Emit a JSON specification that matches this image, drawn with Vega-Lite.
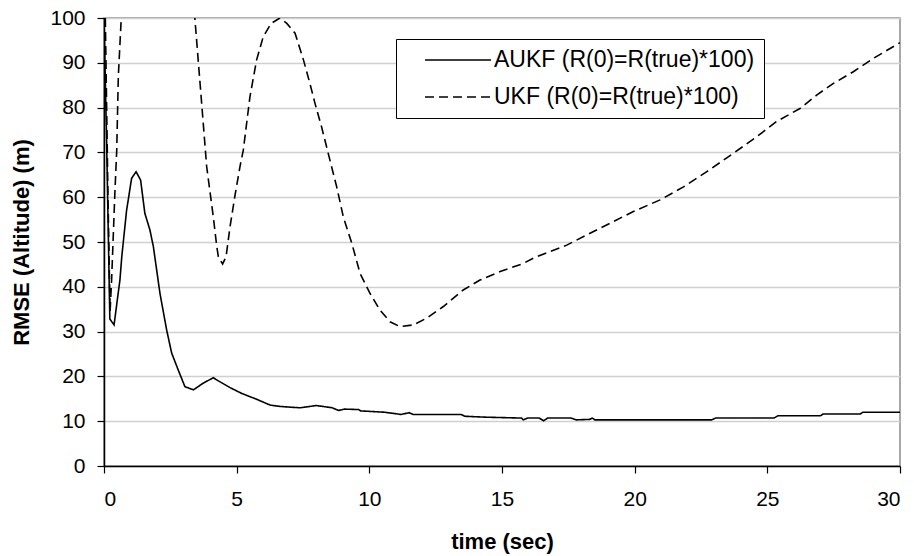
{
  "$schema": "https://vega.github.io/schema/vega-lite/v6.json",
  "width": 796,
  "height": 448,
  "autosize": "none",
  "padding": {"left": 104, "top": 18, "right": 14, "bottom": 90},
  "background": "white",
  "config": {
    "font": "Liberation Sans",
    "view": {"stroke": "#8c8c8c", "strokeWidth": 1.5},
    "axis": {"labelFont": "Liberation Sans", "titleFont": "Liberation Sans", "labelColor": "black", "titleColor": "black"}
  },
  "data": {
    "values": [
      {"t": 0, "v": 100, "s": "AUKF (R(0)=R(true)*100)"},
      {"t": 0.1, "v": 72, "s": "AUKF (R(0)=R(true)*100)"},
      {"t": 0.22, "v": 32.8, "s": "AUKF (R(0)=R(true)*100)"},
      {"t": 0.38, "v": 31.5, "s": "AUKF (R(0)=R(true)*100)"},
      {"t": 0.5, "v": 37, "s": "AUKF (R(0)=R(true)*100)"},
      {"t": 0.6, "v": 41.5, "s": "AUKF (R(0)=R(true)*100)"},
      {"t": 0.67, "v": 46.7, "s": "AUKF (R(0)=R(true)*100)"},
      {"t": 0.85, "v": 57, "s": "AUKF (R(0)=R(true)*100)"},
      {"t": 1.04, "v": 64.2, "s": "AUKF (R(0)=R(true)*100)"},
      {"t": 1.21, "v": 65.7, "s": "AUKF (R(0)=R(true)*100)"},
      {"t": 1.38, "v": 63.8, "s": "AUKF (R(0)=R(true)*100)"},
      {"t": 1.54, "v": 56.4, "s": "AUKF (R(0)=R(true)*100)"},
      {"t": 1.73, "v": 52.7, "s": "AUKF (R(0)=R(true)*100)"},
      {"t": 1.86, "v": 49, "s": "AUKF (R(0)=R(true)*100)"},
      {"t": 2.11, "v": 38.5, "s": "AUKF (R(0)=R(true)*100)"},
      {"t": 2.36, "v": 30.4, "s": "AUKF (R(0)=R(true)*100)"},
      {"t": 2.55, "v": 25.2, "s": "AUKF (R(0)=R(true)*100)"},
      {"t": 2.8, "v": 21.4, "s": "AUKF (R(0)=R(true)*100)"},
      {"t": 3.05, "v": 17.7, "s": "AUKF (R(0)=R(true)*100)"},
      {"t": 3.37, "v": 17, "s": "AUKF (R(0)=R(true)*100)"},
      {"t": 3.74, "v": 18.5, "s": "AUKF (R(0)=R(true)*100)"},
      {"t": 4.12, "v": 19.7, "s": "AUKF (R(0)=R(true)*100)"},
      {"t": 4.31, "v": 19, "s": "AUKF (R(0)=R(true)*100)"},
      {"t": 4.75, "v": 17.5, "s": "AUKF (R(0)=R(true)*100)"},
      {"t": 5.19, "v": 16.2, "s": "AUKF (R(0)=R(true)*100)"},
      {"t": 5.75, "v": 14.9, "s": "AUKF (R(0)=R(true)*100)"},
      {"t": 6.26, "v": 13.6, "s": "AUKF (R(0)=R(true)*100)"},
      {"t": 6.63, "v": 13.3, "s": "AUKF (R(0)=R(true)*100)"},
      {"t": 7.09, "v": 13.1, "s": "AUKF (R(0)=R(true)*100)"},
      {"t": 7.4, "v": 13.0, "s": "AUKF (R(0)=R(true)*100)"},
      {"t": 8.0, "v": 13.5, "s": "AUKF (R(0)=R(true)*100)"},
      {"t": 8.6, "v": 13.0, "s": "AUKF (R(0)=R(true)*100)"},
      {"t": 8.84, "v": 12.4, "s": "AUKF (R(0)=R(true)*100)"},
      {"t": 9.06, "v": 12.7, "s": "AUKF (R(0)=R(true)*100)"},
      {"t": 9.6, "v": 12.6, "s": "AUKF (R(0)=R(true)*100)"},
      {"t": 9.67, "v": 12.3, "s": "AUKF (R(0)=R(true)*100)"},
      {"t": 10.28, "v": 12.1, "s": "AUKF (R(0)=R(true)*100)"},
      {"t": 10.58, "v": 12.0, "s": "AUKF (R(0)=R(true)*100)"},
      {"t": 11.2, "v": 11.5, "s": "AUKF (R(0)=R(true)*100)"},
      {"t": 11.5, "v": 11.9, "s": "AUKF (R(0)=R(true)*100)"},
      {"t": 11.65, "v": 11.5, "s": "AUKF (R(0)=R(true)*100)"},
      {"t": 12.55, "v": 11.5, "s": "AUKF (R(0)=R(true)*100)"},
      {"t": 13.46, "v": 11.5, "s": "AUKF (R(0)=R(true)*100)"},
      {"t": 13.6, "v": 11.1, "s": "AUKF (R(0)=R(true)*100)"},
      {"t": 14.37, "v": 10.9, "s": "AUKF (R(0)=R(true)*100)"},
      {"t": 15.74, "v": 10.7, "s": "AUKF (R(0)=R(true)*100)"},
      {"t": 15.8, "v": 10.3, "s": "AUKF (R(0)=R(true)*100)"},
      {"t": 15.97, "v": 10.7, "s": "AUKF (R(0)=R(true)*100)"},
      {"t": 16.4, "v": 10.7, "s": "AUKF (R(0)=R(true)*100)"},
      {"t": 16.57, "v": 10.1, "s": "AUKF (R(0)=R(true)*100)"},
      {"t": 16.72, "v": 10.7, "s": "AUKF (R(0)=R(true)*100)"},
      {"t": 17.6, "v": 10.7, "s": "AUKF (R(0)=R(true)*100)"},
      {"t": 17.8, "v": 10.3, "s": "AUKF (R(0)=R(true)*100)"},
      {"t": 18.3, "v": 10.4, "s": "AUKF (R(0)=R(true)*100)"},
      {"t": 18.4, "v": 10.7, "s": "AUKF (R(0)=R(true)*100)"},
      {"t": 18.5, "v": 10.3, "s": "AUKF (R(0)=R(true)*100)"},
      {"t": 22.9, "v": 10.3, "s": "AUKF (R(0)=R(true)*100)"},
      {"t": 23.05, "v": 10.7, "s": "AUKF (R(0)=R(true)*100)"},
      {"t": 25.25, "v": 10.7, "s": "AUKF (R(0)=R(true)*100)"},
      {"t": 25.4, "v": 11.2, "s": "AUKF (R(0)=R(true)*100)"},
      {"t": 27.0, "v": 11.2, "s": "AUKF (R(0)=R(true)*100)"},
      {"t": 27.1, "v": 11.6, "s": "AUKF (R(0)=R(true)*100)"},
      {"t": 28.5, "v": 11.6, "s": "AUKF (R(0)=R(true)*100)"},
      {"t": 28.6, "v": 12.0, "s": "AUKF (R(0)=R(true)*100)"},
      {"t": 30, "v": 12.0, "s": "AUKF (R(0)=R(true)*100)"},
      {"t": 0.05, "v": 100, "s": "UKF (R(0)=R(true)*100)"},
      {"t": 0.15, "v": 60, "s": "UKF (R(0)=R(true)*100)"},
      {"t": 0.23, "v": 34.5, "s": "UKF (R(0)=R(true)*100)"},
      {"t": 0.29, "v": 42, "s": "UKF (R(0)=R(true)*100)"},
      {"t": 0.41, "v": 61, "s": "UKF (R(0)=R(true)*100)"},
      {"t": 0.48, "v": 70.5, "s": "UKF (R(0)=R(true)*100)"},
      {"t": 0.54, "v": 87, "s": "UKF (R(0)=R(true)*100)"},
      {"t": 0.64, "v": 98.8, "s": "UKF (R(0)=R(true)*100)"},
      {"t": 0.7, "v": 106, "s": "UKF (R(0)=R(true)*100)"},
      {"t": 3.35, "v": 105, "s": "UKF (R(0)=R(true)*100)"},
      {"t": 3.43, "v": 99.5, "s": "UKF (R(0)=R(true)*100)"},
      {"t": 3.68, "v": 81, "s": "UKF (R(0)=R(true)*100)"},
      {"t": 3.87, "v": 66.8, "s": "UKF (R(0)=R(true)*100)"},
      {"t": 4.12, "v": 55.6, "s": "UKF (R(0)=R(true)*100)"},
      {"t": 4.25, "v": 49, "s": "UKF (R(0)=R(true)*100)"},
      {"t": 4.31, "v": 46.7, "s": "UKF (R(0)=R(true)*100)"},
      {"t": 4.47, "v": 45.1, "s": "UKF (R(0)=R(true)*100)"},
      {"t": 4.6, "v": 46.7, "s": "UKF (R(0)=R(true)*100)"},
      {"t": 4.75, "v": 53.4, "s": "UKF (R(0)=R(true)*100)"},
      {"t": 4.94, "v": 60.5, "s": "UKF (R(0)=R(true)*100)"},
      {"t": 5.13, "v": 67, "s": "UKF (R(0)=R(true)*100)"},
      {"t": 5.25, "v": 70.5, "s": "UKF (R(0)=R(true)*100)"},
      {"t": 5.5, "v": 82.4, "s": "UKF (R(0)=R(true)*100)"},
      {"t": 5.75, "v": 90.6, "s": "UKF (R(0)=R(true)*100)"},
      {"t": 6.0, "v": 95.8, "s": "UKF (R(0)=R(true)*100)"},
      {"t": 6.3, "v": 98.8, "s": "UKF (R(0)=R(true)*100)"},
      {"t": 6.63, "v": 100, "s": "UKF (R(0)=R(true)*100)"},
      {"t": 6.89, "v": 98.8, "s": "UKF (R(0)=R(true)*100)"},
      {"t": 7.2, "v": 96.6, "s": "UKF (R(0)=R(true)*100)"},
      {"t": 7.52, "v": 90.6, "s": "UKF (R(0)=R(true)*100)"},
      {"t": 7.76, "v": 85.4, "s": "UKF (R(0)=R(true)*100)"},
      {"t": 7.95, "v": 81, "s": "UKF (R(0)=R(true)*100)"},
      {"t": 8.2, "v": 75.7, "s": "UKF (R(0)=R(true)*100)"},
      {"t": 8.45, "v": 69.8, "s": "UKF (R(0)=R(true)*100)"},
      {"t": 8.77, "v": 62.3, "s": "UKF (R(0)=R(true)*100)"},
      {"t": 9.02, "v": 55.6, "s": "UKF (R(0)=R(true)*100)"},
      {"t": 9.34, "v": 49.7, "s": "UKF (R(0)=R(true)*100)"},
      {"t": 9.65, "v": 43, "s": "UKF (R(0)=R(true)*100)"},
      {"t": 10.03, "v": 38.5, "s": "UKF (R(0)=R(true)*100)"},
      {"t": 10.4, "v": 34.8, "s": "UKF (R(0)=R(true)*100)"},
      {"t": 10.78, "v": 32.2, "s": "UKF (R(0)=R(true)*100)"},
      {"t": 11.16, "v": 31.1, "s": "UKF (R(0)=R(true)*100)"},
      {"t": 11.66, "v": 31.5, "s": "UKF (R(0)=R(true)*100)"},
      {"t": 12.16, "v": 33, "s": "UKF (R(0)=R(true)*100)"},
      {"t": 12.79, "v": 35.6, "s": "UKF (R(0)=R(true)*100)"},
      {"t": 13.54, "v": 39.3, "s": "UKF (R(0)=R(true)*100)"},
      {"t": 14.17, "v": 41.5, "s": "UKF (R(0)=R(true)*100)"},
      {"t": 14.93, "v": 43.4, "s": "UKF (R(0)=R(true)*100)"},
      {"t": 15.8, "v": 45.2, "s": "UKF (R(0)=R(true)*100)"},
      {"t": 16.18, "v": 46.4, "s": "UKF (R(0)=R(true)*100)"},
      {"t": 17.44, "v": 49.3, "s": "UKF (R(0)=R(true)*100)"},
      {"t": 18.7, "v": 53.1, "s": "UKF (R(0)=R(true)*100)"},
      {"t": 19.95, "v": 56.8, "s": "UKF (R(0)=R(true)*100)"},
      {"t": 20.96, "v": 59.4, "s": "UKF (R(0)=R(true)*100)"},
      {"t": 21.84, "v": 62.3, "s": "UKF (R(0)=R(true)*100)"},
      {"t": 22.72, "v": 65.7, "s": "UKF (R(0)=R(true)*100)"},
      {"t": 23.72, "v": 69.8, "s": "UKF (R(0)=R(true)*100)"},
      {"t": 24.6, "v": 73.5, "s": "UKF (R(0)=R(true)*100)"},
      {"t": 25.35, "v": 76.9, "s": "UKF (R(0)=R(true)*100)"},
      {"t": 26.23, "v": 79.8, "s": "UKF (R(0)=R(true)*100)"},
      {"t": 26.86, "v": 82.8, "s": "UKF (R(0)=R(true)*100)"},
      {"t": 27.49, "v": 85.4, "s": "UKF (R(0)=R(true)*100)"},
      {"t": 28.24, "v": 88, "s": "UKF (R(0)=R(true)*100)"},
      {"t": 29.0, "v": 91, "s": "UKF (R(0)=R(true)*100)"},
      {"t": 30, "v": 94.5, "s": "UKF (R(0)=R(true)*100)"}
    ]
  },
  "mark": {"type": "line", "clip": true, "color": "black", "strokeWidth": 1.6},
  "encoding": {
    "x": {
      "field": "t", "type": "quantitative",
      "scale": {"domain": [0, 30], "nice": false, "zero": false},
      "axis": {
        "title": "time (sec)", "values": [0, 5, 10, 15, 20, 25, 30],
        "grid": false, "domainColor": "black", "domainWidth": 1.5, "tickColor": "black", "tickSize": 7, "tickWidth": 1.2,
        "labelFontSize": 21, "labelPadding": 15, "titleFontSize": 22, "titleFontWeight": "bold", "titlePadding": 22
      }
    },
    "y": {
      "field": "v", "type": "quantitative",
      "scale": {"domain": [0, 100], "nice": false},
      "axis": {
        "title": "RMSE (Altitude) (m)", "values": [0, 10, 20, 30, 40, 50, 60, 70, 80, 90, 100],
        "grid": true, "gridColor": "#d0d0d0", "gridWidth": 1.5,
        "domainColor": "black", "domainWidth": 1.5, "tickColor": "black", "tickSize": 7, "tickWidth": 1.2,
        "labelFontSize": 21, "labelPadding": 12, "titleFontSize": 22, "titleFontWeight": "bold", "titlePadding": 16
      }
    },
    "strokeDash": {
      "field": "s", "type": "nominal",
      "scale": {"domain": ["AUKF (R(0)=R(true)*100)", "UKF (R(0)=R(true)*100)"], "range": [[1, 0], [9, 5]]},
      "legend": {
        "title": null, "orient": "none", "legendX": 292, "legendY": 21,
        "direction": "vertical",
        "strokeColor": "black", "fillColor": "white", "padding": 9,
        "symbolType": "M-3,0H3", "symbolSize": 484, "symbolStrokeWidth": 1.6, "symbolStrokeColor": "black",
        "symbolOffset": 41,
        "labelFontSize": 23, "labelColor": "black", "labelOffset": 24, "rowPadding": 13, "labelLimit": 400
      }
    }
  }
}
